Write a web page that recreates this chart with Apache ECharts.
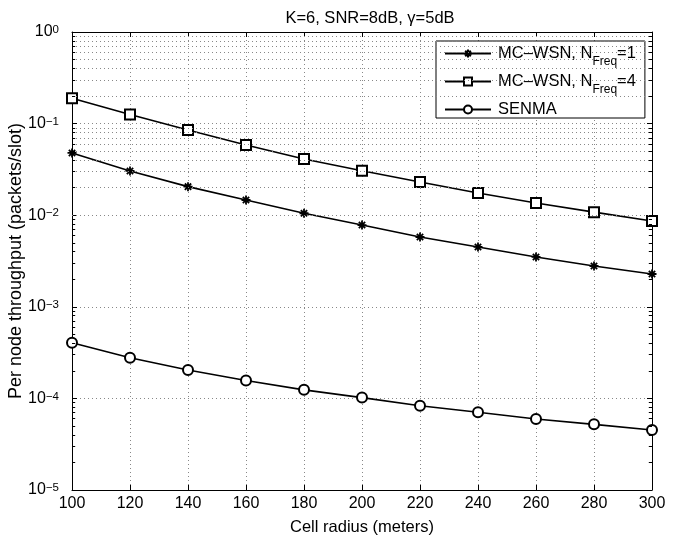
<!DOCTYPE html>
<html>
<head>
<meta charset="utf-8">
<script src="https://cdn.jsdelivr.net/npm/echarts@6/dist/echarts.min.js"></script>
<style>html,body{margin:0;padding:0;background:#fff}#c{width:676px;height:535px}</style>
</head>
<body>
<div id="c"></div>
<script>
const xValues = [100, 120, 140, 160, 180, 200, 220, 240, 260, 280, 300];
const mcwsnN1 = [0.0478, 0.0304, 0.0205, 0.01466, 0.0105, 0.00781, 0.00578, 0.0045, 0.0035, 0.00279, 0.00228];
const mcwsnN4 = [0.189, 0.126, 0.0851, 0.0584, 0.0411, 0.0306, 0.0230, 0.0175, 0.0136, 0.0108, 0.00865];
const senma = [4.06e-4, 2.78e-4, 2.04e-4, 1.57e-4, 1.24e-4, 1.02e-4, 8.3e-5, 7.05e-5, 5.96e-5, 5.21e-5, 4.52e-5];
const seriesNames = ['MC-WSN, N_Freq=1', 'MC-WSN, N_Freq=4', 'SENMA'];
const yDecades = [-5, -4, -3, -2, -1, 0];
const minorMultipliers = [2, 3, 4, 5, 6, 7, 8, 9];

const minorVals = [];
yDecades.slice(0, -1).forEach(d => minorMultipliers.forEach(m => minorVals.push(m * Math.pow(10, d))));

const FONT = 'Liberation Sans, Arial, Helvetica, sans-serif';
const gridDot = { color: '#888', width: 1, type: [1, 3] };

function pair(a, b) { return a.map((v, i) => [v, b[i]]); }

const starPath = 'path://M0,-10L0,10M-10,0L10,0M-7,-7L7,7M-7,7L7,-7';

const minorTickLines = [];
minorVals.forEach(v => {
  minorTickLines.push([{ coord: [100, v] }, { coord: [101.1, v] }]);
  minorTickLines.push([{ coord: [298.9, v] }, { coord: [300, v] }]);
});

const chart = echarts.init(document.getElementById('c'), null, { renderer: 'canvas' });
chart.setOption({
  animation: false,
  backgroundColor: '#fff',
  textStyle: { fontFamily: FONT },
  title: {
    text: 'K=6, SNR=8dB, γ=5dB',
    left: 365, top: 5, textAlign: 'center',
    textStyle: { fontFamily: FONT, fontSize: 16.5, fontWeight: 'normal', color: '#000' }
  },
  grid: { left: 72, right: 24, top: 32, bottom: 45, containLabel: false, outerBoundsMode: 'none' },
  legend: {
    data: seriesNames,
    orient: 'vertical',
    left: 436, top: 41,
    padding: [4, 9, 0, 8],
    itemWidth: 46, itemHeight: 10, itemGap: 3,
    backgroundColor: '#fff',
    borderColor: '#000', borderWidth: 1, borderRadius: 0,
    formatter: function (name) {
      if (name === 'SENMA') return '{c|SENMA}';
      const n = name.slice(-1);
      return '{a|MC–WSN, N}{s|Freq}{a|=' + n + '}';
    },
    textStyle: {
      fontFamily: FONT, fontSize: 16.5, color: '#000', padding: [0, 0, 0, 2],
      rich: {
        a: { fontFamily: FONT, fontSize: 16.5, lineHeight: 17, verticalAlign: 'top', color: '#000' },
        s: { fontFamily: FONT, fontSize: 12, lineHeight: 12, verticalAlign: 'top', padding: [11, 0, 2, 0], color: '#000' },
        c: { fontFamily: FONT, fontSize: 16.5, lineHeight: 25, verticalAlign: 'middle', color: '#000' }
      }
    }
  },
  xAxis: [{
    type: 'value', min: 100, max: 300, interval: 20,
    name: 'Cell radius (meters)', nameLocation: 'middle', nameGap: 29, nameMoveOverlap: false,
    nameTextStyle: { fontFamily: FONT, fontSize: 16.5, color: '#000' },
    axisLine: { lineStyle: { color: '#000', width: 1 } },
    axisTick: { inside: true, length: 5, lineStyle: { color: '#000' } },
    axisLabel: { fontFamily: FONT, fontSize: 16, color: '#000', margin: 6 },
    splitLine: { show: true, lineStyle: gridDot }
  }, {
    type: 'value', min: 100, max: 300, interval: 20, position: 'top',
    axisLine: { show: true, lineStyle: { color: '#000', width: 1 } },
    axisTick: { inside: true, length: 5, lineStyle: { color: '#000' } },
    axisLabel: { show: false }, splitLine: { show: false }
  }],
  yAxis: [{
    type: 'log', logBase: 10, min: 1e-5, max: 1,
    name: 'Per node throughput (packets/slot)', nameLocation: 'middle', nameGap: 47, nameMoveOverlap: false,
    nameTextStyle: { fontFamily: FONT, fontSize: 18, color: '#000' },
    axisLine: { show: true, lineStyle: { color: '#000', width: 1 } },
    axisTick: { inside: true, length: 5, lineStyle: { color: '#000' } },
    axisLabel: {
      margin: 13,
      formatter: function (v) {
        const e = Math.round(Math.log10(v));
        return '{b|10}{p|' + (e < 0 ? '−' + (-e) : e) + '}';
      },
      rich: {
        b: { fontFamily: FONT, fontSize: 16, lineHeight: 16, verticalAlign: 'top', color: '#000' },
        p: { fontFamily: FONT, fontSize: 11.5, lineHeight: 8, verticalAlign: 'top', color: '#000' }
      }
    },
    splitLine: { show: true, lineStyle: gridDot }
  }, {
    type: 'log', logBase: 10, min: 1e-5, max: 1, position: 'right',
    axisLine: { show: true, lineStyle: { color: '#000', width: 1 } },
    axisTick: { inside: true, length: 5, lineStyle: { color: '#000' } },
    axisLabel: { show: false }, splitLine: { show: false }
  }],
  series: [{
    name: 'grid', type: 'line', data: [], z: 1, silent: true,
    markLine: {
      silent: true, symbol: ['none', 'none'], label: { show: false }, animation: false,
      lineStyle: gridDot,
      emphasis: { disabled: true },
      data: minorVals.map(v => ({ yAxis: v }))
    }
  }, {
    name: 'ticks', type: 'line', data: [], z: 1, silent: true,
    markLine: {
      silent: true, symbol: ['none', 'none'], label: { show: false }, animation: false,
      lineStyle: { color: '#000', width: 1, type: 'solid' },
      emphasis: { disabled: true },
      data: minorTickLines
    }
  }, {
    name: seriesNames[0], type: 'line', data: pair(xValues, mcwsnN1), z: 3,
    symbol: starPath, symbolSize: 9, showAllSymbol: true,
    lineStyle: { color: '#000', width: 1.6 },
    itemStyle: { color: 'rgba(0,0,0,0)', borderColor: '#000', borderWidth: 1.8 }
  }, {
    name: seriesNames[1], type: 'line', data: pair(xValues, mcwsnN4), z: 3,
    symbol: 'emptyRect', symbolSize: 10, showAllSymbol: true,
    lineStyle: { color: '#000', width: 1.6 },
    itemStyle: { color: '#000', borderColor: '#000', borderWidth: 1.4 }
  }, {
    name: seriesNames[2], type: 'line', data: pair(xValues, senma), z: 3,
    symbol: 'emptyCircle', symbolSize: 10, showAllSymbol: true,
    lineStyle: { color: '#000', width: 1.6 },
    itemStyle: { color: '#000', borderColor: '#000', borderWidth: 1.4 }
  }]
});
</script>
</body>
</html>
